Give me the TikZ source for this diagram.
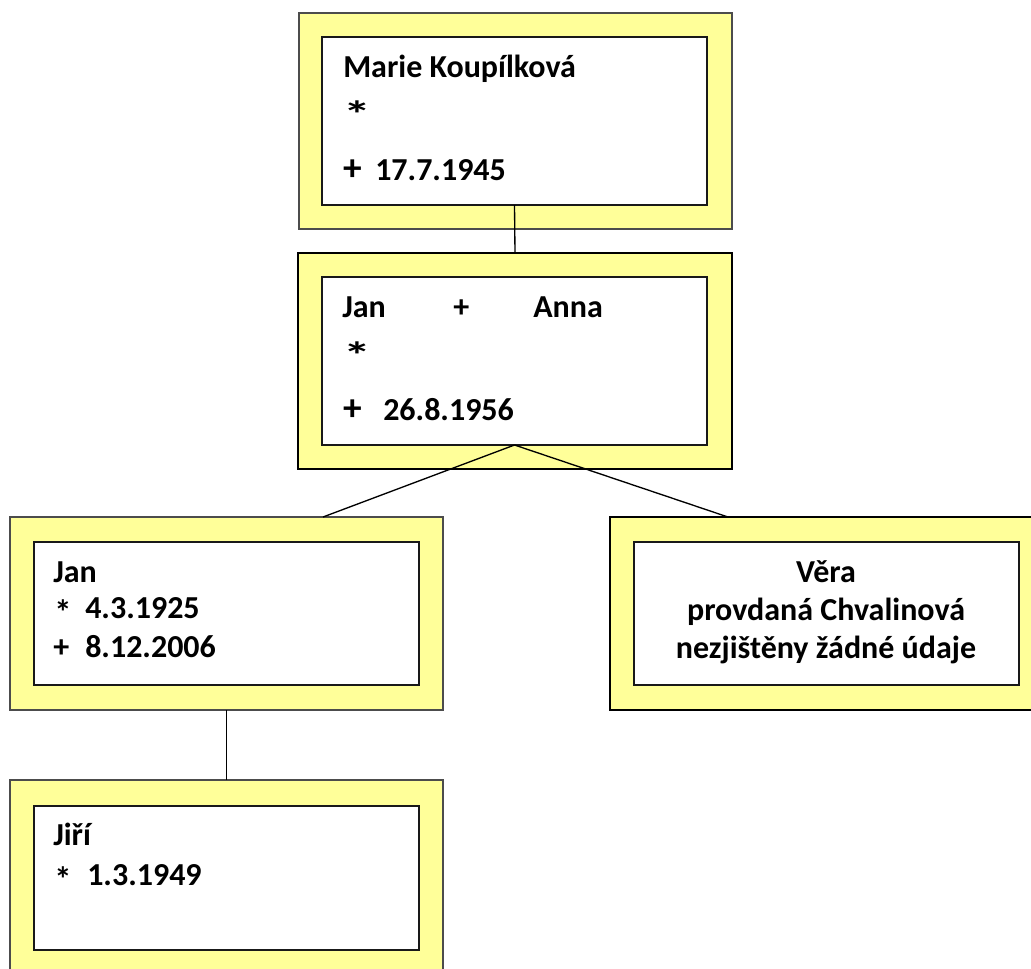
\documentclass[tikz,border=0pt]{standalone}
\usepackage{fontspec}
\setmainfont{Carlito}
\definecolor{boxyellow}{HTML}{FFFF99}
\newcommand\pxbox[6]{\node[#6, minimum width={(#4-#2)*0.75pt}, minimum height={(#5-#3)*0.75pt}] (#1) at ({(#2+#4)/2},{(#3+#5)/2}) {};}
\begin{document}
\begin{tikzpicture}[x=0.75pt,y=-0.75pt,
  outerthin/.style={draw=black!70, line width=0.9pt, fill=boxyellow, inner sep=0pt, outer sep=0pt},
  outerthick/.style={draw=black, line width=2.2pt, fill=boxyellow, inner sep=0pt, outer sep=0pt},
  innerbox/.style={draw=black!90, line width=1.4pt, fill=white, inner sep=0pt, outer sep=0pt},
  txt/.style={anchor=base west, inner sep=0pt, font=\fontsize{24}{28}\selectfont\bfseries},
  smallsym/.style={anchor=base west, inner sep=0pt, font=\fontsize{26}{28}\selectfont\bfseries},
  sym/.style={anchor=base west, inner sep=0pt, font=\fontsize{28}{30}\selectfont\bfseries},
  ctxt/.style={anchor=base, inner sep=0pt, font=\fontsize{24}{28}\selectfont\bfseries},
  link/.style={draw=black, line width=1pt}]
\useasboundingbox (0,0) rectangle (1031,968);
% boxes
\pxbox{out1}{299}{13}{732}{229}{outerthin}
\pxbox{in1}{322}{37}{707}{205}{innerbox}
\pxbox{out2}{298}{253}{732}{469}{outerthick}
\pxbox{in2}{322}{277}{707}{445}{innerbox}
\pxbox{out3}{10}{517}{443}{710}{outerthin}
\pxbox{in3}{34}{542}{419}{685}{innerbox}
\pxbox{out4}{610}{517}{1036}{710}{outerthick}
\pxbox{in4}{634}{542}{1019}{685}{innerbox}
\pxbox{out5}{10}{780}{443}{975}{outerthin}
\pxbox{in5}{34}{806}{419}{950}{innerbox}
% texts
\node[txt] (t1a) at (343,77) {Marie Koupílková};
\node[sym] (t1b) at (343,127) {\scalebox{1.5}[1]{*}};
\node[sym] (t1c) at (343,180) {+};
\node[txt] (t1d) at (375,180) {17.7.1945};
\node[txt] (t2a) at (342,317) {Jan};
\node[txt] (t2b) at (453,317) {+};
\node[txt] (t2c) at (533,317) {Anna};
\node[sym] (t2d) at (343,368) {\scalebox{1.5}[1]{*}};
\node[sym] (t2e) at (343,420) {+};
\node[txt] (t2f) at (383,420) {26.8.1956};
\node[txt] (t3a) at (53,582) {Jan};
\node[smallsym] (t3b) at (54,624) {*};
\node[txt] (t3c) at (85,618) {4.3.1925};
\node[txt] (t3d) at (53,657) {+};
\node[txt] (t3e) at (85,657) {8.12.2006};
\node[ctxt] (t4a) at (826,582) {Věra};
\node[ctxt] (t4b) at (826,620) {provdaná Chvalinová};
\node[ctxt] (t4c) at (826,658) {nezjištěny žádné údaje};
\node[txt] (t5a) at (53,845) {Jiří};
\node[smallsym] (t5b) at (54,891) {*};
\node[txt] (t5c) at (87,885) {1.3.1949};
% connectors
\coordinate (c3) at (323,517);
\coordinate (c4) at (728,517);
\draw[link] (in1.south) -- (out2.north);
\draw[link] (in2.south) -- (c3);
\draw[link] (in2.south) -- (c4);
\draw[link] (out3.south) -- (out5.north);
\end{tikzpicture}
\end{document}
